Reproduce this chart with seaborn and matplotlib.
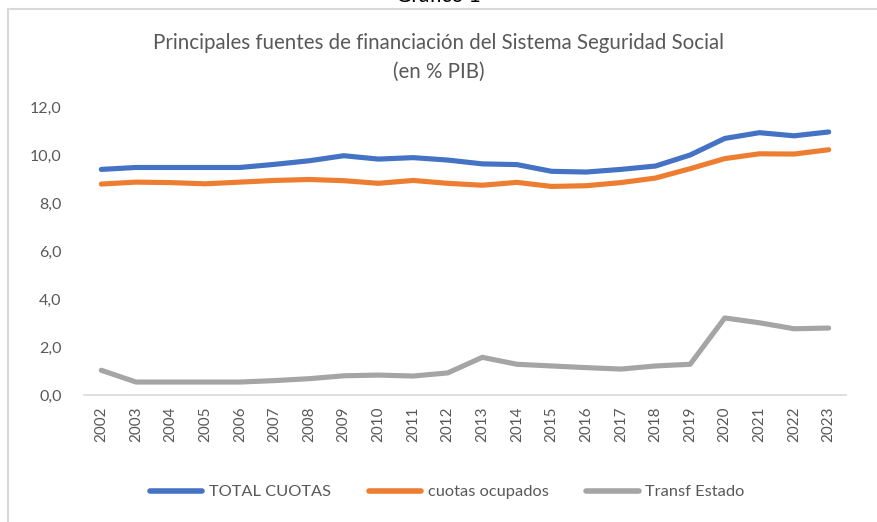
import matplotlib
matplotlib.use("Agg")
import matplotlib.pyplot as plt
import seaborn as sns
import pandas as pd
from matplotlib.lines import Line2D
from matplotlib.ticker import FuncFormatter

years = [str(y) for y in range(2002, 2024)]
total_cuotas = [9.40, 9.48, 9.48, 9.48, 9.48, 9.61, 9.76, 9.97, 9.83, 9.89, 9.79,
                9.63, 9.60, 9.32, 9.29, 9.40, 9.54, 10.00, 10.69, 10.93, 10.80, 10.96]
cuotas_ocupados = [8.79, 8.87, 8.85, 8.80, 8.87, 8.94, 8.98, 8.93, 8.82, 8.94, 8.82,
                   8.74, 8.86, 8.69, 8.72, 8.85, 9.04, 9.43, 9.85, 10.05, 10.04, 10.22]
transf_estado = [1.03, 0.54, 0.54, 0.54, 0.54, 0.60, 0.68, 0.80, 0.83, 0.79, 0.92,
                 1.57, 1.28, 1.21, 1.14, 1.08, 1.21, 1.28, 3.21, 3.01, 2.76, 2.79]
series_names = ["TOTAL CUOTAS", "cuotas ocupados", "Transf Estado"]
colors = ["#4472C4", "#ED7D31", "#A5A5A5"]

df = pd.DataFrame({"year": years * 3,
                   "value": total_cuotas + cuotas_ocupados + transf_estado,
                   "serie": [series_names[0]] * 22 + [series_names[1]] * 22 + [series_names[2]] * 22})

sns.set_theme(style="white")
plt.rcParams["font.family"] = ["Lato", "DejaVu Sans"]

fig = plt.figure(figsize=(8.77, 5.22), dpi=100)
ax = fig.add_axes([84 / 877, 1 - 395 / 522, (846 - 84) / 877, (395 - 107) / 522])

sns.lineplot(data=df, x="year", y="value", hue="serie", palette=colors,
             linewidth=3.7, ax=ax, legend=False, sort=False)
for ln in ax.get_lines():
    ln.set_solid_capstyle("round")
    ln.set_solid_joinstyle("round")

ax.set_xlim(-0.5, len(years) - 0.5)
ax.set_ylim(0, 12)
ax.set_yticks([0, 2, 4, 6, 8, 10, 12])
ax.yaxis.set_major_formatter(FuncFormatter(lambda v, p: f"{v:.1f}".replace(".", ",")))
ax.set_xlabel("")
ax.set_ylabel("")
ax.tick_params(axis="x", rotation=90, labelsize=11, colors="#595959", length=0, pad=8)
ax.tick_params(axis="y", labelsize=11.5, colors="#595959", length=0, pad=16)
for s in ["top", "right", "left"]:
    ax.spines[s].set_visible(False)
ax.spines["bottom"].set_color("#D9D9D9")
ax.spines["bottom"].set_linewidth(1.2)
ax.grid(False)

fig.text(0.5, 1 - 43 / 522, "Principales fuentes de financiación del Sistema Seguridad Social",
         ha="center", va="center", fontsize=14.8, color="#595959")
fig.text(0.5, 1 - 72 / 522, "(en % PIB)", ha="center", va="center", fontsize=14.8, color="#595959")
fig.text(0.5, 1 - 2 / 522, "Gráfico 1", ha="center", va="baseline", fontsize=15, color="#000000")

# chart border (left and top visible)
fig.add_artist(Line2D([8 / 877, 8 / 877], [0, 1 - 9 / 522], transform=fig.transFigure,
                      color="#D9D9D9", linewidth=1.5))
fig.add_artist(Line2D([8 / 877, 1], [1 - 9 / 522, 1 - 9 / 522], transform=fig.transFigure,
                      color="#D9D9D9", linewidth=1.5))

handles = [Line2D([0], [0], color=c, linewidth=4, solid_capstyle="round") for c in colors]
fig.legend(handles, series_names, loc="center", bbox_to_anchor=(0.51, 1 - 492 / 522),
           ncol=3, frameon=False, fontsize=11.8, handlelength=3.2, columnspacing=2.3,
           handletextpad=0.4, labelcolor="#595959")

fig.savefig("out.png", dpi=100)
